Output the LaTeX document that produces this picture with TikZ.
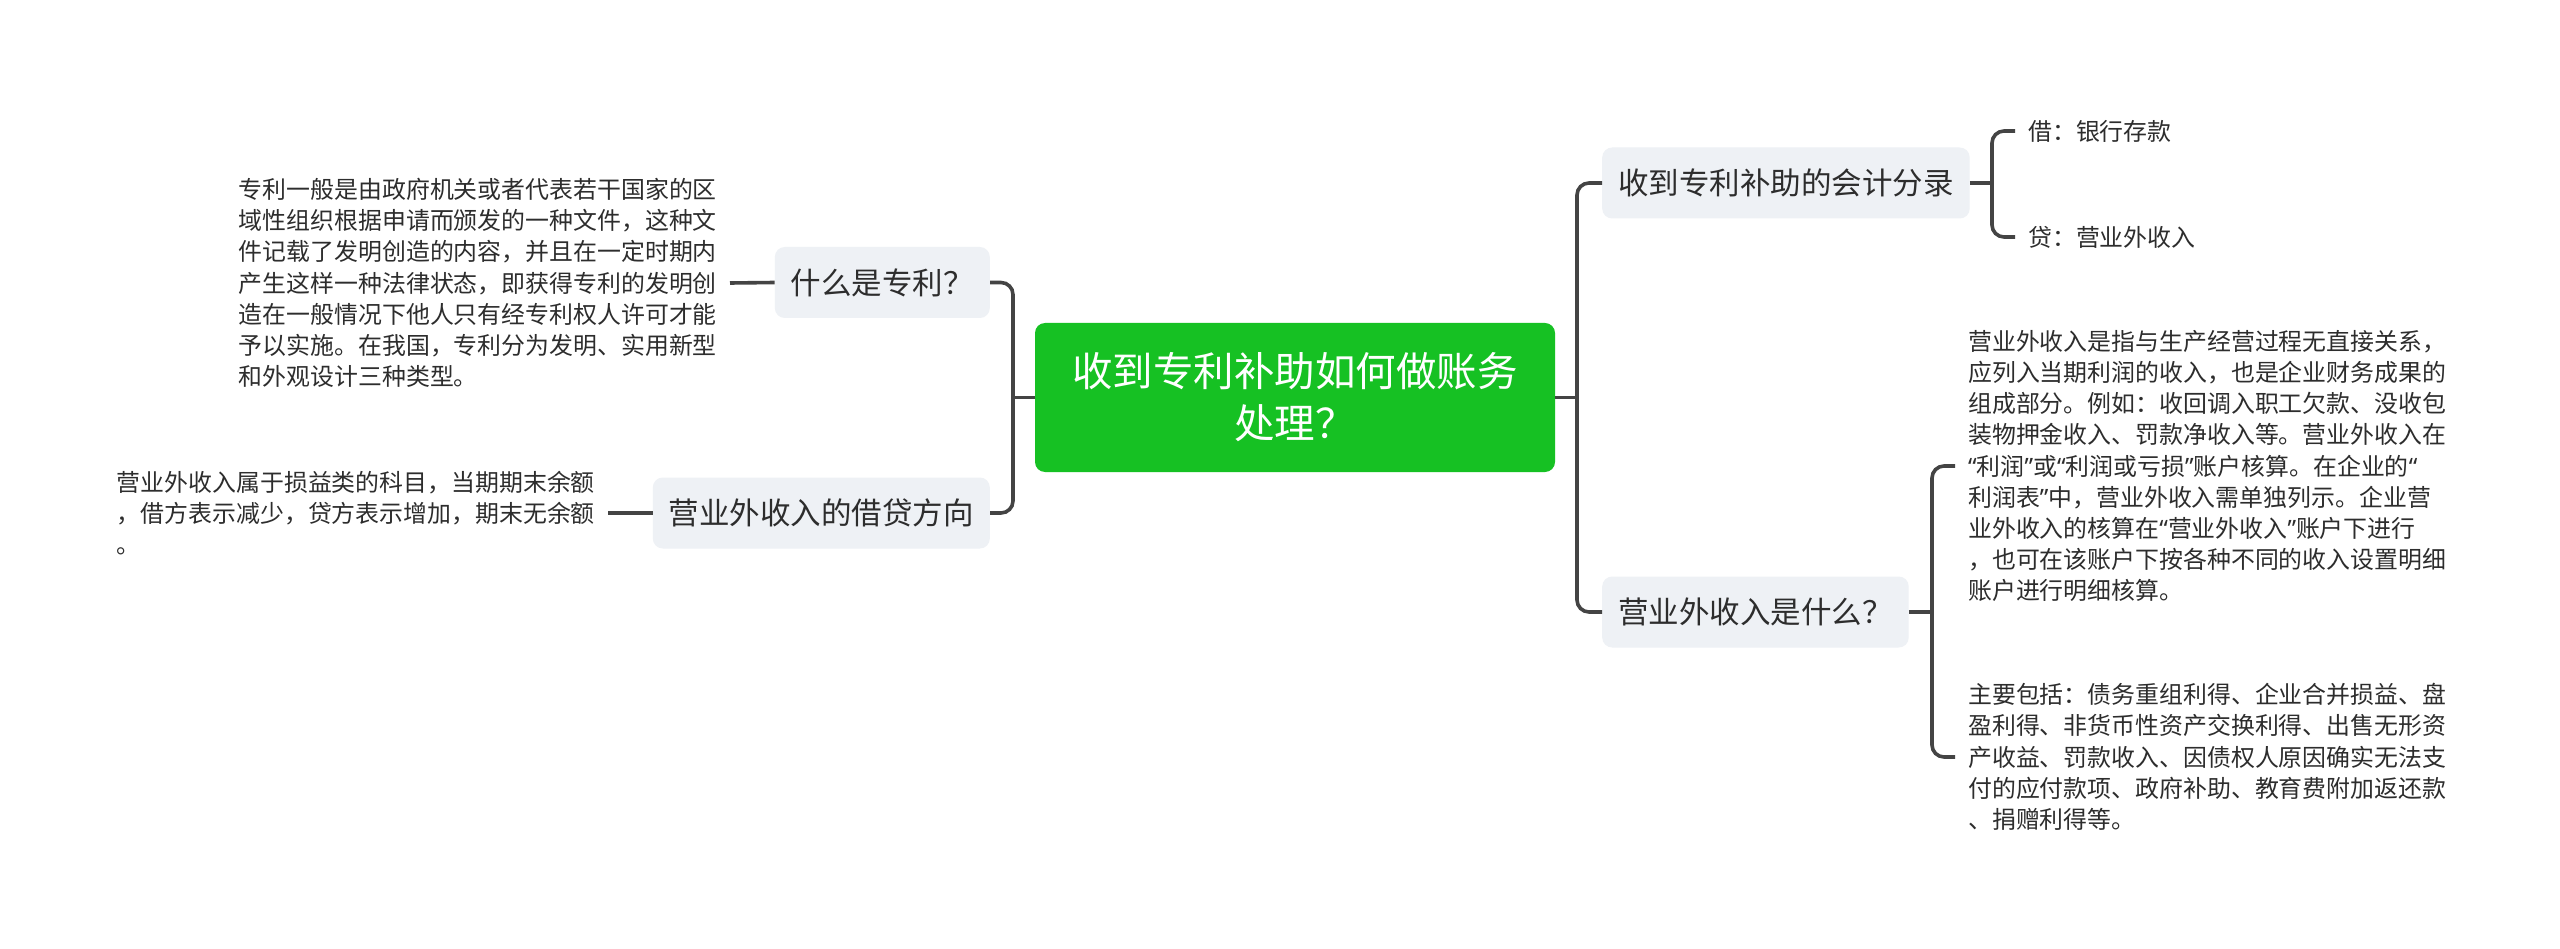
\documentclass[tikz,border=0pt]{standalone}
\usepackage{fontspec}
\setmainfont{Noto Sans CJK SC}
\newfontfamily\quotefont{Noto Sans}
\newcommand{\myoq}{{\quotefont “}}
\newcommand{\mycq}{{\quotefont ”}}
\definecolor{rootc}{RGB}{22,193,35}
\definecolor{boxc}{RGB}{238,241,245}
\definecolor{txtc}{RGB}{45,45,45}
\definecolor{linec}{RGB}{68,68,68}
\begin{document}
\begin{tikzpicture}[x=1pt,y=-1pt,
  conn/.style={draw=linec, line width=3.6pt, rounded corners=12pt},
  topic/.style={fill=boxc, rounded corners=10pt, text=txtc, inner xsep=16pt, inner ysep=0pt, minimum height=71pt, font=\fontsize{30.5}{36}\selectfont},
  leaf/.style={text=txtc, inner xsep=13pt, inner ysep=0pt, align=left, font=\fontsize{23.9}{31.2}\selectfont},
  rootbox/.style={fill=rootc, rounded corners=10pt, minimum width=520pt, minimum height=149pt, inner sep=0pt, text=white, align=center, font=\fontsize{40.5}{52}\selectfont}
]
\useasboundingbox (0,0) rectangle (2560,949);
\fill[white] (0,0) rectangle (2560,949);

\node[rootbox] (root) at (1295,397.5) {收到专利补助如何做账务\\处理？};

\node[topic, anchor=east] (t1) at (990,282.5) {什么是专利？};
\node[topic, anchor=east] (t2) at (990,513) {营业外收入的借贷方向};
\node[topic, anchor=west] (t3) at (1602,183) {收到专利补助的会计分录};
\node[topic, anchor=west] (t4) at (1602,612) {营业外收入是什么？};

\node[leaf, anchor=east] (l1) at (730,283) {专利一般是由政府机关或者代表若干国家的区\\域性组织根据申请而颁发的一种文件，这种文\\件记载了发明创造的内容，并且在一定时期内\\产生这样一种法律状态，即获得专利的发明创\\造在一般情况下他人只有经专利权人许可才能\\予以实施。在我国，专利分为发明、实用新型\\和外观设计三种类型。};
\node[leaf, anchor=east] (l2) at (608,513) {营业外收入属于损益类的科目，当期期末余额\\，借方表示减少，贷方表示增加，期末无余额\\。};
\node[leaf, anchor=west] (r1) at (2015,131) {借：银行存款};
\node[leaf, anchor=west] (r2) at (2015,237) {贷：营业外收入};
\node[leaf, anchor=west] (r3) at (1955,466) {营业外收入是指与生产经营过程无直接关系，\\应列入当期利润的收入，也是企业财务成果的\\组成部分。例如：收回调入职工欠款、没收包\\装物押金收入、罚款净收入等。营业外收入在\\\myoq 利润\mycq 或\myoq 利润或亏损\mycq 账户核算。在企业的\myoq\\利润表\mycq 中，营业外收入需单独列示。企业营\\业外收入的核算在\myoq 营业外收入\mycq 账户下进行\\，也可在该账户下按各种不同的收入设置明细\\账户进行明细核算。};
\node[leaf, anchor=west] (r4) at (1955,757) {主要包括：债务重组利得、企业合并损益、盘\\盈利得、非货币性资产交换利得、出售无形资\\产收益、罚款收入、因债权人原因确实无法支\\付的应付款项、政府补助、教育费附加返还款\\、捐赠利得等。};

\coordinate (jL) at (1013,397.5);
\coordinate (jR) at (1577,397.5);
\coordinate (jA) at (1992,183);
\coordinate (jB) at (1932,612);

\draw[conn] (root.west) -- (jL);
\draw[conn] (t1.east) -| (jL) |- (t2.east);
\draw[conn] (root.east) -- (jR);
\draw[conn] (t3.west) -| (jR) |- (t4.west);
\draw[conn] (t3.east) -- (jA);
\draw[conn] (r1.west) -| (jA) |- (r2.west);
\draw[conn] (t4.east) -- (jB);
\draw[conn] (r3.west) -| (jB) |- (r4.west);
\draw[conn] (l1.east) -- (t1.west);
\draw[conn] (l2.east) -- (t2.west);
\end{tikzpicture}
\end{document}
